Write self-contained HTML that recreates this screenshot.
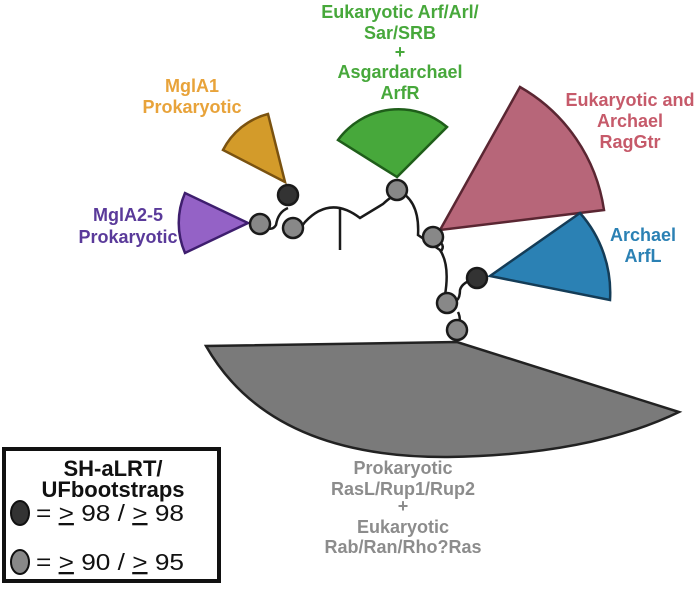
<!DOCTYPE html>
<html><head><style>
body{margin:0;background:#fff;width:699px;height:584px;overflow:hidden}
svg text{font-family:"Liberation Sans",sans-serif;font-weight:bold;font-size:18px;text-anchor:middle}
</style></head><body>
<svg width="699" height="584" viewBox="0 0 699 584" xmlns="http://www.w3.org/2000/svg">
<g stroke="#1a1a1a" stroke-width="2.5" fill="none">
<path d="M262,226 Q272,232 276,225 Q278,212 288,208"/>
<path d="M293,228 Q300,230 305,222 Q330,195 360,218 L383,204 Q398,190 397,200"/>
<path d="M340,208 L340,250"/>
<path d="M397,190 Q420,200 418,235 L440,250 Q450,265 445,295 L447,302"/>
<path d="M433,237 Q448,245 440,252"/>
<path d="M447,302 Q460,305 460,290 Q462,282 477,278"/>
<path d="M457,330 Q462,320 458,312"/>
</g>
<path d="M285,182 L223,150 A70,70 0 0 1 268,114 Z" fill="#d39b2a" stroke="#7a5210" stroke-width="2.5"/>
<path d="M248,223 L185,193 A75,75 0 0 0 185,253 Z" fill="#9462c6" stroke="#3e1e6e" stroke-width="2.5"/>
<path d="M397,177 L338,140 A75,75 0 0 1 447,127 Z" fill="#47a83b" stroke="#1f5e1a" stroke-width="2.5"/>
<path d="M440,230 L520,87 A170,170 0 0 1 604,210 Z" fill="#b76679" stroke="#5a2632" stroke-width="2.5"/>
<path d="M490,276 L580,213 A120,120 0 0 1 610,300 Z" fill="#2b81b4" stroke="#143c57" stroke-width="2.5"/>
<path d="M457,342 L206,346 Q270,458 448,457 Q590,455 679,412 Z" fill="#7a7a7a" stroke="#222" stroke-width="2.5"/>
<g stroke="#1a1a1a" stroke-width="2.5">
<circle cx="288" cy="195" r="10" fill="#333"/>
<circle cx="477" cy="278" r="10" fill="#333"/>
<g fill="#888">
<circle cx="260" cy="224" r="10"/><circle cx="293" cy="228" r="10"/>
<circle cx="397" cy="190" r="10"/><circle cx="433" cy="237" r="10"/>
<circle cx="447" cy="303" r="10"/><circle cx="457" cy="330" r="10"/>
</g></g>
<g fill="#e8a33a"><text x="192" y="92">MglA1</text><text x="192" y="113">Prokaryotic</text></g>
<g fill="#5a3a9a"><text x="128" y="221">MglA2-5</text><text x="128" y="243">Prokaryotic</text></g>
<g fill="#47a83b"><text x="400" y="18">Eukaryotic Arf/Arl/</text><text x="400" y="39">Sar/SRB</text><text x="400" y="58">+</text><text x="400" y="78">Asgardarchael</text><text x="400" y="99">ArfR</text></g>
<g fill="#c65a6a"><text x="630" y="106">Eukaryotic and</text><text x="630" y="127">Archael</text><text x="630" y="148">RagGtr</text></g>
<g fill="#2b81b4"><text x="643" y="241">Archael</text><text x="643" y="262">ArfL</text></g>
<g fill="#8c8c8c"><text x="403" y="474">Prokaryotic</text><text x="403" y="495">RasL/Rup1/Rup2</text><text x="403" y="512">+</text><text x="403" y="533">Eukaryotic</text><text x="403" y="553">Rab/Ran/Rho?Ras</text></g>
<rect x="4" y="449" width="215" height="132" fill="#fff" stroke="#111" stroke-width="4"/>
<g fill="#111"><text x="113" y="476" style="font-size:22px">SH-aLRT/</text><text x="113" y="497" style="font-size:22px">UFbootstraps</text></g>
<ellipse cx="20" cy="513" rx="9" ry="12" fill="#333" stroke="#111" stroke-width="2"/>
<ellipse cx="20" cy="562" rx="9" ry="12" fill="#888" stroke="#111" stroke-width="2"/>
<text x="36" y="521" textLength="148" lengthAdjust="spacingAndGlyphs" style="text-anchor:start;font-weight:normal;font-size:23px" fill="#111">= <tspan text-decoration="underline">&gt;</tspan> 98 / <tspan text-decoration="underline">&gt;</tspan> 98</text>
<text x="36" y="570" textLength="148" lengthAdjust="spacingAndGlyphs" style="text-anchor:start;font-weight:normal;font-size:23px" fill="#111">= <tspan text-decoration="underline">&gt;</tspan> 90 / <tspan text-decoration="underline">&gt;</tspan> 95</text>
</svg>
</body></html>
